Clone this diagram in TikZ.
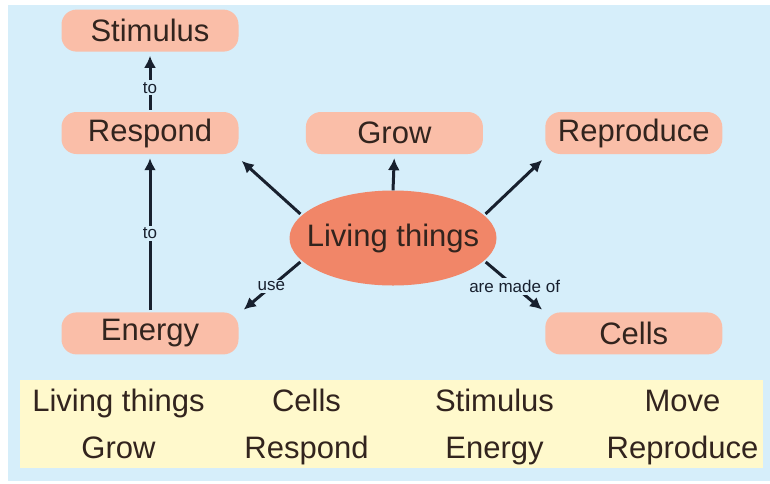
\documentclass[tikz,border=0pt]{standalone}
\usepackage{fontspec}
\setmainfont{Liberation Sans}
\usetikzlibrary{positioning,shapes.geometric,arrows.meta,matrix}
\definecolor{skyback}{RGB}{214,238,250}
\definecolor{boxpink}{RGB}{250,190,168}
\definecolor{hubsalmon}{RGB}{241,134,104}
\definecolor{bankyellow}{RGB}{255,249,204}
\definecolor{inkbrown}{RGB}{50,36,30}
\definecolor{arrowink}{RGB}{24,32,46}
\newcommand{\bigword}{\fontsize{31}{31}\selectfont}
\tikzset{
concept/.style={fill=boxpink,rounded corners=15pt,minimum width=177pt,minimum height=42pt,inner sep=0pt,font=\bigword,text=inkbrown},
hub/.style={ellipse,fill=hubsalmon,minimum width=207pt,minimum height=95pt,inner xsep=-16pt,inner ysep=0pt,font=\bigword,text=inkbrown},
linkarrow/.style={-{Latex[length=12pt,width=12pt]},line width=3pt,arrowink,shorten <=2pt,shorten >=4pt},
linklabel/.style={fill=skyback,inner sep=2pt,font=\fontsize{17}{17}\selectfont,text=arrowink},
bank/.style={matrix of nodes,
nodes={minimum width=188pt,minimum height=47pt,inner sep=0pt,text height=23pt,text depth=7pt,font=\bigword,text=inkbrown},
row sep=0pt,column sep=0pt,ampersand replacement=\&,anchor=center}
}
\begin{document}
\begin{tikzpicture}[x=1pt,y=-1pt]
\useasboundingbox (0,0) rectangle (770,483);
\fill[skyback] (8,5) rectangle (770,481);
\fill[bankyellow] (20,380) rectangle (763,468);

\node[hub] (living) at (393,238) {Living things};
\node[concept] (respond) at (150,133) {Respond};
\node[concept,above=60pt of respond] (stimulus) {Stimulus};
\node[concept,below=158pt of respond] (energy) {Energy};
\node[concept,right=67pt of respond] (grow) {Grow};
\node[concept,right=62pt of grow] (reproduce) {Reproduce};
\node[concept,below=158pt of reproduce] (cells) {Cells};

\draw[linkarrow] (respond) -- node[linklabel,pos=0.4]{to} (stimulus);
\draw[linkarrow] (energy) -- node[linklabel,pos=0.5]{to} (respond);
\draw[linkarrow] (living.166) -- ([yshift=-4pt]respond.south east);
\draw[linkarrow,shorten <=0pt] (living.north) -- (grow.south);
\draw[linkarrow] (living.14) -- ([yshift=-3pt]reproduce.south west);
\draw[linkarrow] (living.194) -- node[linklabel]{use} ([xshift=2pt]energy.north east);
\draw[linkarrow] (living.346) -- node[linklabel]{are made of} (cells.north west);

\matrix[bank] (words) at (400.5,426.5) {
Living things \& Cells \& Stimulus \& Move \\
Grow \& Respond \& Energy \& Reproduce \\
};
\end{tikzpicture}
\end{document}
